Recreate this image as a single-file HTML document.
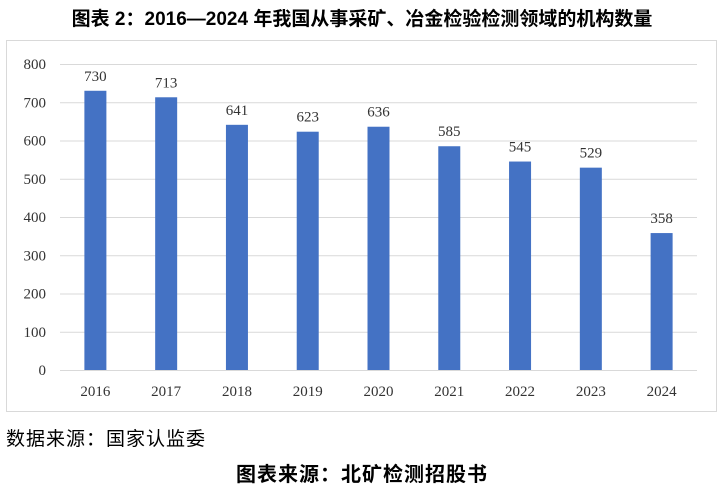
<!DOCTYPE html>
<html><head><meta charset="utf-8"><style>
body{margin:0;width:724px;height:493px;background:#fff;overflow:hidden;font-family:"Liberation Sans","Noto Sans CJK SC",sans-serif}
.t{position:absolute;left:0;width:724px;text-align:center;font-weight:bold;color:#000;white-space:nowrap}
</style></head><body>
<div class="t" style="top:4px;font-size:19px">图表 2：2016—2024 年我国从事采矿、冶金检验检测领域的机构数量</div>
<svg width="724" height="493" style="position:absolute;left:0;top:0;z-index:-1">
<rect x="6.5" y="40.5" width="710" height="371" fill="none" stroke="#d9d9d9"/>
<g id="g"></g>
</svg>
<div style="position:absolute;left:6px;top:424px;font-size:19px;letter-spacing:1px;white-space:nowrap">数据来源：国家认监委</div>
<div class="t" style="top:458px;font-size:20px;letter-spacing:1px">图表来源：北矿检测招股书</div>
<script>
const categories=["2016","2017","2018","2019","2020","2021","2022","2023","2024"];
const values=[730,713,641,623,636,585,545,529,358];
const yTicks=[0,100,200,300,400,500,600,700,800];
const g=document.getElementById('g');const NS='http://www.w3.org/2000/svg';
const x0=60,x1=697,yb=370,yt=64,ymax=800;
const y=v=>yb-(v/ymax)*(yb-yt);
const step=(x1-x0)/categories.length;
const xc=i=>x0+step*(i+0.5);
function mk(t,a,txt){const e=document.createElementNS(NS,t);for(const k in a)e.setAttribute(k,a[k]);if(txt!=null)e.textContent=txt;g.appendChild(e);return e;}
yTicks.forEach(v=>{
const l=mk('line',{x1:x0,x2:x1,y1:y(v)+.5,y2:y(v)+.5,stroke:'#d9d9d9'});


const t=mk('text',{x:46,y:y(v)+5,'text-anchor':'end','font-size':15,fill:'#333','font-family':'Liberation Serif, serif'},v);


});
categories.forEach((c,i)=>{
const v=values[i];
const b=mk('rect',{x:xc(i)-11,y:y(v),width:22,height:yb-y(v),fill:'#4472c4'});


const lb=mk('text',{x:xc(i),y:y(v)-10,'text-anchor':'middle','font-size':15,fill:'#333','font-family':'Liberation Serif, serif'},v);


const xt=mk('text',{x:xc(i),y:396,'text-anchor':'middle','font-size':15,fill:'#333','font-family':'Liberation Serif, serif'},c);


});
</script>
</body></html>
